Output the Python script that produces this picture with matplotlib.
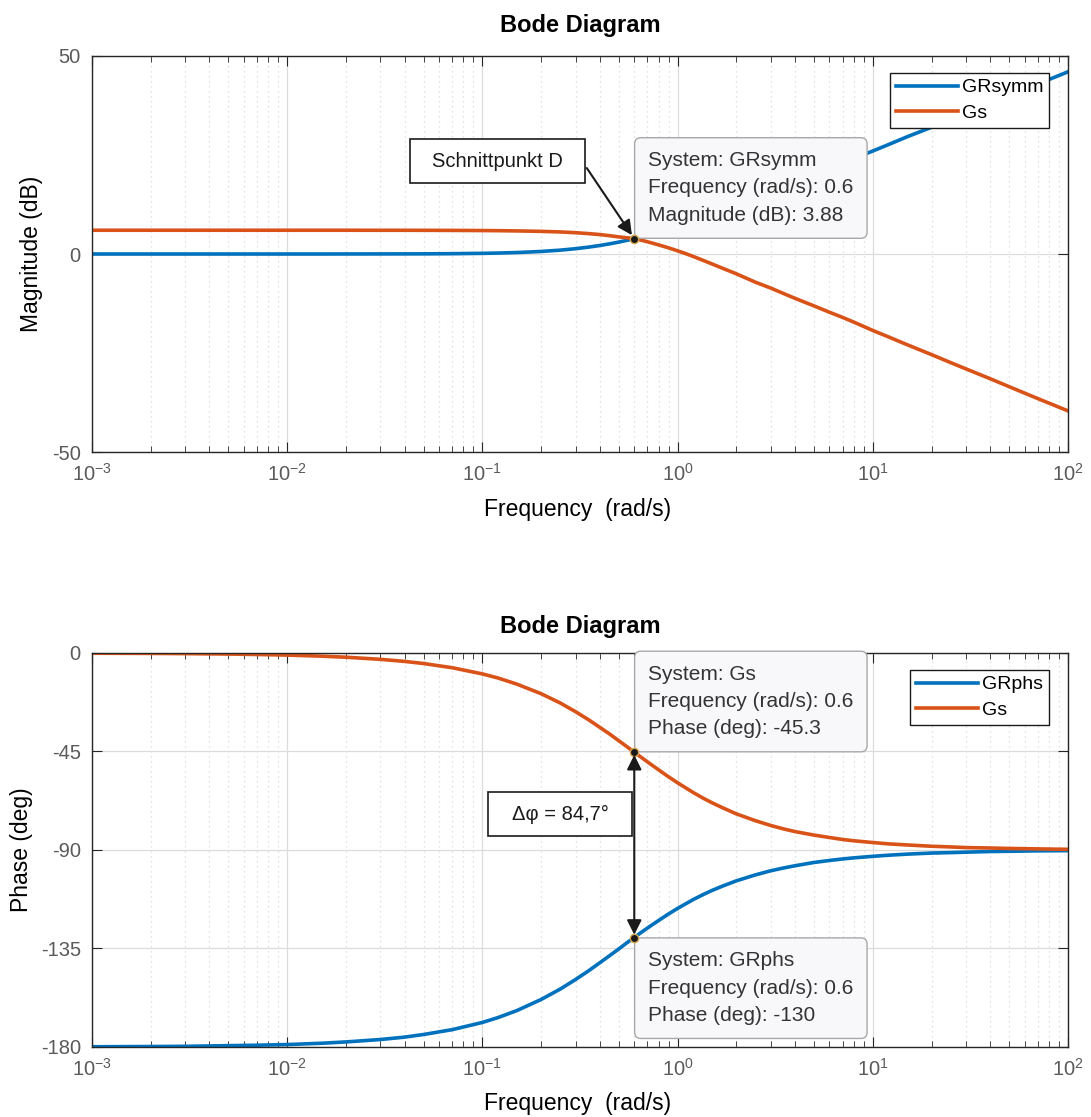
import matplotlib
matplotlib.use("Agg")
import matplotlib.pyplot as plt
import matplotlib.patches as mpatches

plt.rcParams['font.family'] = ['Liberation Sans', 'DejaVu Sans']
plt.rcParams['axes.unicode_minus'] = False

# frequency points (rad/s) and the responses at those points
freq = [0.001, 0.002, 0.003, 0.005, 0.007, 0.01, 0.015, 0.02, 0.03, 0.04,
        0.05, 0.07, 0.1, 0.12, 0.15, 0.2, 0.25, 0.3, 0.35, 0.4, 0.45, 0.5,
        0.55, 0.6, 0.65, 0.7, 0.8, 0.9, 1.0, 1.1, 1.2, 1.35, 1.5, 1.7, 2,
        2.5, 3, 3.5, 4, 5, 6, 7, 8, 10, 12, 15, 20, 25, 30, 40, 50, 70, 100]

grsymm_mag = [0.0, 0.0, 0.0, 0.0, 0.0, 0.0, 0.0, 0.01, 0.02, 0.03,
              0.04, 0.08, 0.17, 0.24, 0.37, 0.64, 0.97, 1.34, 1.74, 2.15,
              2.58, 3.01, 3.45, 3.88, 4.31, 4.73, 5.54, 6.30, 6.99, 7.64,
              8.25, 9.1, 10.0, 11.0, 12.3, 14.2, 15.7, 17.0, 18.2, 20.2,
              21.6, 23.0, 24.1, 26.0, 27.6, 29.6, 32.0, 34.0, 35.6, 38.1,
              40.0, 42.9, 46.0]
gs_mag = [6.0, 6.0, 6.0, 6.0, 6.0, 6.0, 6.0, 6.0, 5.99, 5.99,
          5.98, 5.96, 5.92, 5.89, 5.83, 5.72, 5.57, 5.38, 5.15, 4.9,
          4.62, 4.32, 4.1, 3.88, 3.5, 3.1, 2.3, 1.55, 0.8, 0.1,
          -0.6, -1.6, -2.5, -3.6, -5.0, -7.1, -8.6, -10.0, -11.2, -13.1,
          -14.7, -16.0, -17.2, -19.3, -20.9, -22.9, -25.4, -27.4, -29.0,
          -31.5, -33.5, -36.5, -39.6]

grphs_phase = [-179.9, -179.8, -179.7, -179.4, -179.2, -178.9, -178.3, -177.7,
               -176.6, -175.5, -174.3, -172.1, -168.8, -166.6, -163.4, -158.3,
               -153.6, -149.2, -145.2, -141.5, -138.2, -135.2, -132.4, -130.0,
               -127.7, -125.7, -122.2, -119.2, -116.7, -114.6, -112.7, -110.4,
               -108.5, -106.5, -104.1, -101.4, -99.5, -98.2, -97.2, -95.7,
               -94.8, -94.1, -93.6, -92.9, -92.4, -91.9, -91.4, -91.2, -91.0,
               -90.7, -90.6, -90.4, -90.3]
gs_phase = [-0.1, -0.19, -0.29, -0.48, -0.68, -0.96, -1.45, -1.93, -2.89,
            -3.85, -4.81, -6.72, -9.56, -11.4, -14.2, -18.6, -22.8, -26.8,
            -30.5, -34.0, -37.1, -40.1, -42.8, -45.3, -47.6, -49.7, -53.4,
            -56.6, -59.3, -61.6, -63.7, -66.3, -68.4, -70.7, -73.5, -76.6,
            -78.8, -80.4, -81.6, -83.2, -84.3, -85.2, -85.8, -86.6, -87.2,
            -87.7, -88.3, -88.6, -88.9, -89.1, -89.3, -89.5, -89.7]

mag_ticks = [-50, 0, 50]
phase_ticks = [-180, -135, -90, -45, 0]

tip_f = 0.6
i_tip = freq.index(tip_f)

BLUE = '#0072BD'
ORANGE = '#D95319'


def style_axes(ax):
    ax.set_xscale('log')
    ax.set_xlim(1e-3, 1e2)
    ax.grid(True, which='major', color='#dcdcdc', lw=0.9, ls='-')
    ax.grid(True, which='minor', axis='x', color='#d9d9d9', lw=0.9, ls=(0, (1, 3)))
    ax.set_axisbelow(True)
    ax.tick_params(which='both', direction='in', top=True, right=True,
                   colors='#262626', labelcolor='#5a5a5a', labelsize=14.5)
    ax.tick_params(which='major', length=7, pad=8)
    ax.tick_params(which='minor', length=4)
    for s in ax.spines.values():
        s.set_color('#262626')
        s.set_linewidth(1.0)


def datatip(ax, x, y, lines, above=True):
    ax.plot([x], [y], 'o', ms=6, mfc='#1a1a1a', mec='#d8a850', mew=1.0, zorder=7)
    ax.annotate('\n'.join(lines), xy=(x, y),
                xytext=(10, 10 if above else -10), textcoords='offset points',
                ha='left', va='bottom' if above else 'top',
                fontsize=15, color='#333333', linespacing=1.55, zorder=6,
                bbox=dict(boxstyle='round,pad=0.65,rounding_size=0.3',
                          fc='#f8f8fa', ec='#a8a8a8', lw=1.0))


def legend(ax, labels):
    leg = ax.legend(labels, loc='upper right', bbox_to_anchor=(0.9805, 0.957),
                    borderaxespad=0, fancybox=False, framealpha=1,
                    edgecolor='#1a1a1a', fontsize=14, handlelength=3.2,
                    handletextpad=0.2, borderpad=0.3, labelspacing=0.4)
    leg.get_frame().set_linewidth(1.0)
    leg.set_zorder(8)


fig = plt.figure(figsize=(10.91, 11.17), dpi=100)

# magnitude
ax1 = fig.add_axes([0.0843, 0.5953, 0.8946, 0.3546])
ax1.plot(freq, grsymm_mag, color=BLUE, lw=2.6)
ax1.plot(freq, gs_mag, color=ORANGE, lw=2.6)
style_axes(ax1)
ax1.set_ylim(-50, 50)
ax1.set_yticks(mag_ticks)
ax1.set_title('Bode Diagram', fontsize=17, fontweight='bold', pad=17)
ax1.set_ylabel('Magnitude (dB)', fontsize=16.5)
ax1.yaxis.set_label_coords(-0.0502, 0.5)
ax1.set_xlabel('Frequency  (rad/s)', fontsize=16.5)
ax1.xaxis.set_label_coords(0.498, -0.116)
legend(ax1, ['GRsymm', 'Gs'])

datatip(ax1, tip_f, grsymm_mag[i_tip],
        ['System: GRsymm', 'Frequency (rad/s): %g' % tip_f,
         'Magnitude (dB): %g' % grsymm_mag[i_tip]])

ax1.add_patch(mpatches.Rectangle((0.3258, 0.6793), 0.1793, 0.1111,
                                 transform=ax1.transAxes, fc='white',
                                 ec='#1a1a1a', lw=1.2, zorder=6))
ax1.text(0.415, 0.7348, 'Schnittpunkt D', transform=ax1.transAxes,
         ha='center', va='center', fontsize=14.5, color='#1a1a1a', zorder=7)
ax1.annotate('', xy=(tip_f, grsymm_mag[i_tip]), xytext=(0.507, 0.717),
             textcoords='axes fraction', zorder=7,
             arrowprops=dict(arrowstyle='-|>', color='#1a1a1a', lw=1.5,
                             mutation_scale=22, shrinkA=0, shrinkB=3))

# phase
ax2 = fig.add_axes([0.0843, 0.0627, 0.8946, 0.3527])
ax2.plot(freq, grphs_phase, color=BLUE, lw=2.6)
ax2.plot(freq, gs_phase, color=ORANGE, lw=2.6)
style_axes(ax2)
ax2.set_ylim(-180, 0)
ax2.set_yticks(phase_ticks)
ax2.set_title('Bode Diagram', fontsize=17, fontweight='bold', pad=14.5)
ax2.set_ylabel('Phase (deg)', fontsize=16.5)
ax2.yaxis.set_label_coords(-0.0605, 0.5)
ax2.set_xlabel('Frequency  (rad/s)', fontsize=16.5)
ax2.xaxis.set_label_coords(0.498, -0.114)
legend(ax2, ['GRphs', 'Gs'])

datatip(ax2, tip_f, gs_phase[i_tip],
        ['System: Gs', 'Frequency (rad/s): %g' % tip_f,
         'Phase (deg): %g' % gs_phase[i_tip]])
datatip(ax2, tip_f, grphs_phase[i_tip],
        ['System: GRphs', 'Frequency (rad/s): %g' % tip_f,
         'Phase (deg): %g' % grphs_phase[i_tip]], above=False)

# phase difference between both curves at the crossover
ax2.annotate('', xy=(tip_f, gs_phase[i_tip]), xytext=(tip_f, grphs_phase[i_tip]),
             zorder=7,
             arrowprops=dict(arrowstyle='<|-|>', color='#1a1a1a', lw=1.5,
                             mutation_scale=22, shrinkA=2, shrinkB=2))
delta = gs_phase[i_tip] - grphs_phase[i_tip]
ax2.add_patch(mpatches.Rectangle((0.4057, 0.5355), 0.1475, 0.1117,
                                 transform=ax2.transAxes, fc='white',
                                 ec='#1a1a1a', lw=1.2, zorder=6))
ax2.text(0.4795, 0.5914, '\u0394\u03c6 = %s\u00b0' % ('%.1f' % delta).replace('.', ','),
         transform=ax2.transAxes, ha='center', va='center', fontsize=14.5,
         color='#1a1a1a', zorder=7)

fig.savefig('out.png', dpi=100)
